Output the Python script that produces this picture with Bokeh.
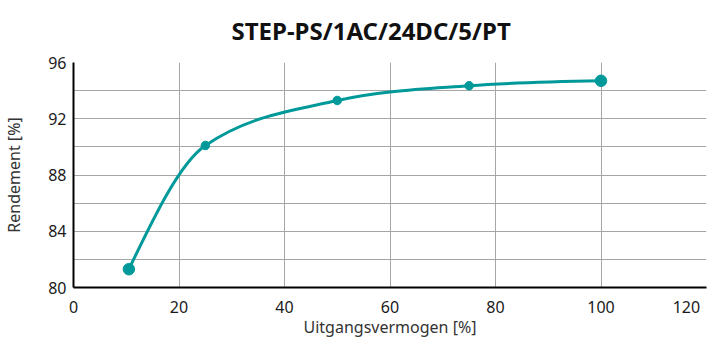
from bokeh.plotting import figure
from bokeh.models import FixedTicker, Range1d
from bokeh.embed import file_html
from bokeh.resources import INLINE

# Data
load_pct = [10.5, 25, 50, 75, 100]
efficiency = [81.3, 90.1, 93.3, 94.35, 94.7]
x_ticks = [0, 20, 40, 60, 80, 100, 120]
y_ticks = [80, 84, 88, 92, 96]
y_minor = [82, 86, 90, 94]

TEAL = "#00999a"
FONT = "Noto Sans"
GRID = "#a6a6a6"

p = figure(width=708, height=340, output_backend="svg", toolbar_location=None,
           x_range=Range1d(0, 120), y_range=Range1d(80, 96),
           title="STEP-PS/1AC/24DC/5/PT",
           min_border_left=10, min_border_right=2, min_border_top=0, min_border_bottom=0)
p.outline_line_color = None
p.background_fill_color = "white"
p.border_fill_color = "white"

p.title.text_font = FONT
p.title.text_font_size = "24px"
p.title.text_font_style = "bold"
p.title.text_color = "#111111"
p.title.text_line_height = 0.7
p.title.align = "left"
p.title.vertical_align = "top"
p.title.offset = 158
p.title.standoff = 27

# Axes
p.xaxis.ticker = FixedTicker(ticks=x_ticks)
p.yaxis.ticker = FixedTicker(ticks=y_ticks, minor_ticks=y_minor)
# last label right-justified so it stays inside the canvas
p.xaxis.major_label_overrides = {x_ticks[-1]: str(x_ticks[-1]) + "\u00a0" * 2}
for ax in (p.xaxis[0], p.yaxis[0]):
    ax.axis_line_color = "black"
    ax.axis_line_width = 2
    ax.major_tick_line_color = None
    ax.minor_tick_line_color = None
    ax.major_tick_out = 0
    ax.minor_tick_out = 0
    ax.major_label_text_font = FONT
    ax.major_label_text_font_size = "16px"
    ax.major_label_text_color = "#1a1a1a"
    ax.axis_label_text_font = FONT
    ax.axis_label_text_font_size = "16px"
    ax.axis_label_text_font_style = "normal"
    ax.axis_label_text_color = "#333333"
p.xaxis.axis_label = "Uitgangsvermogen [%]"
p.yaxis.axis_label = "Rendement [%]"
p.xaxis.major_label_standoff = 8
p.xaxis.axis_label_standoff = -5
p.yaxis.major_label_standoff = 7
p.yaxis.axis_label_standoff = 20

# Grid
p.xgrid.grid_line_color = GRID
p.xgrid.grid_line_width = 1
p.ygrid.grid_line_color = GRID
p.ygrid.grid_line_width = 1
p.ygrid.minor_grid_line_color = GRID
p.ygrid.minor_grid_line_width = 1

# Monotone cubic (monotoneX) curve through the data points, as bezier segments
n = len(load_pct)
h = [load_pct[i + 1] - load_pct[i] for i in range(n - 1)]
s = [(efficiency[i + 1] - efficiency[i]) / h[i] for i in range(n - 1)]


def sign(v):
    return (v > 0) - (v < 0)


t = [0.0] * n
for i in range(1, n - 1):
    pm = (s[i - 1] * h[i] + s[i] * h[i - 1]) / (h[i - 1] + h[i])
    t[i] = (sign(s[i - 1]) + sign(s[i])) * min(abs(s[i - 1]), abs(s[i]), 0.5 * abs(pm))
t[0] = (3 * s[0] - t[1]) / 2
t[n - 1] = (3 * s[n - 2] - t[n - 2]) / 2

x0s, y0s, x1s, y1s, cx0s, cy0s, cx1s, cy1s = [], [], [], [], [], [], [], []
for i in range(n - 1):
    dx = h[i] / 3
    x0s.append(load_pct[i]); y0s.append(efficiency[i])
    x1s.append(load_pct[i + 1]); y1s.append(efficiency[i + 1])
    cx0s.append(load_pct[i] + dx); cy0s.append(efficiency[i] + dx * t[i])
    cx1s.append(load_pct[i + 1] - dx); cy1s.append(efficiency[i + 1] - dx * t[i + 1])

p.bezier(x0=x0s, y0=y0s, x1=x1s, y1=y1s, cx0=cx0s, cy0=cy0s, cx1=cx1s, cy1=cy1s,
         line_color=TEAL, line_width=3)
p.scatter(load_pct[1:-1], efficiency[1:-1], size=8.5, color=TEAL)
p.scatter([load_pct[0], load_pct[-1]], [efficiency[0], efficiency[-1]], size=11.5, color=TEAL)

open("out.html", "w").write(file_html(p, INLINE))
